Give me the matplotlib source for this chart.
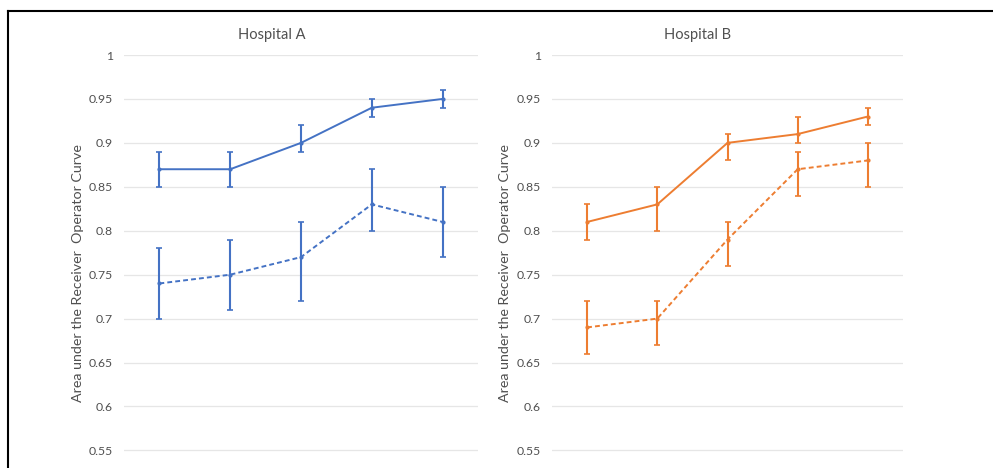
import matplotlib
matplotlib.use("Agg")
import matplotlib.pyplot as plt
from matplotlib.lines import Line2D
import numpy as np

plt.rcParams['font.family'] = ['Lato', 'DejaVu Sans']

categories = ["1", "2", "3", "4", "5"]

# Hospital A
a_solid = [0.87, 0.87, 0.90, 0.94, 0.95]
a_solid_lo = [0.85, 0.85, 0.89, 0.93, 0.94]
a_solid_hi = [0.89, 0.89, 0.92, 0.95, 0.96]
a_dash = [0.74, 0.75, 0.77, 0.83, 0.81]
a_dash_lo = [0.70, 0.71, 0.72, 0.80, 0.77]
a_dash_hi = [0.78, 0.79, 0.81, 0.87, 0.85]

# Hospital B
b_solid = [0.81, 0.83, 0.90, 0.91, 0.93]
b_solid_lo = [0.79, 0.80, 0.88, 0.90, 0.92]
b_solid_hi = [0.83, 0.85, 0.91, 0.93, 0.94]
b_dash = [0.69, 0.70, 0.79, 0.87, 0.88]
b_dash_lo = [0.66, 0.67, 0.76, 0.84, 0.85]
b_dash_hi = [0.72, 0.72, 0.81, 0.89, 0.90]

yticks = [0.55, 0.6, 0.65, 0.7, 0.75, 0.8, 0.85, 0.9, 0.95, 1.0]
ytick_labels = ["0.55", "0.6", "0.65", "0.7", "0.75", "0.8", "0.85", "0.9", "0.95", "1"]

titles = ["Hospital A", "Hospital B"]
ylabel = "Area under the Receiver  Operator Curve"

BLUE = "#4472C4"
ORANGE = "#ED7D31"
GRID = "#E6E6E6"
TXT = "#505050"

W, H = 993, 468
fig = plt.figure(figsize=(W / 100, H / 100), dpi=100)

def px_axes(left, right, top, bottom):
    return [left / W, 1 - bottom / H, (right - left) / W, (bottom - top) / H]

panels = [
    dict(rect=px_axes(124, 478, 55, 468), color=BLUE,
         solid=(a_solid, a_solid_lo, a_solid_hi), dash=(a_dash, a_dash_lo, a_dash_hi),
         title_x=272, ylabel_x=78),
    dict(rect=px_axes(552, 903, 55, 468), color=ORANGE,
         solid=(b_solid, b_solid_lo, b_solid_hi), dash=(b_dash, b_dash_lo, b_dash_hi),
         title_x=698, ylabel_x=505),
]

x = np.arange(len(categories))
for i, p in enumerate(panels):
    ax = fig.add_axes(p["rect"])
    ax.set_ylim(0.53, 1.0)
    ax.set_xlim(-0.5, len(categories) - 0.5)
    ax.set_yticks(yticks)
    ax.set_yticklabels(ytick_labels)
    ax.set_xticks([])
    ax.tick_params(axis='y', length=0, pad=8, labelsize=8.8, labelcolor=TXT)
    for s in ax.spines.values():
        s.set_visible(False)
    ax.grid(axis='y', color=GRID, lw=0.9)
    ax.set_axisbelow(True)
    for key, ls in (("solid", "-"), ("dash", (0, (2.5, 1.6)))):
        v, lo, hi = p[key]
        v = np.array(v); lo = np.array(lo); hi = np.array(hi)
        ax.errorbar(x, v, yerr=[v - lo, hi - v], color=p["color"], lw=1.4,
                    linestyle=ls, marker='o', ms=2.0, capsize=2.2, elinewidth=1.5,
                    capthick=1.2)
    fig.text(p["title_x"] / W, 1 - 34.5 / H, titles[i], ha='center', va='center',
             fontsize=10.5, color=TXT)
    fig.text(p["ylabel_x"] / W, 1 - 273.5 / H, ylabel, rotation=90, ha='center',
             va='center', fontsize=10.3, color=TXT)

# frame lines (top and left)
fig.add_artist(Line2D([8 / W, 1.0], [1 - 11 / H, 1 - 11 / H], transform=fig.transFigure,
                      color='black', lw=1.5))
fig.add_artist(Line2D([8 / W, 8 / W], [0, 1 - 11 / H], transform=fig.transFigure,
                      color='black', lw=1.5))

fig.savefig("out.png", dpi=100)
